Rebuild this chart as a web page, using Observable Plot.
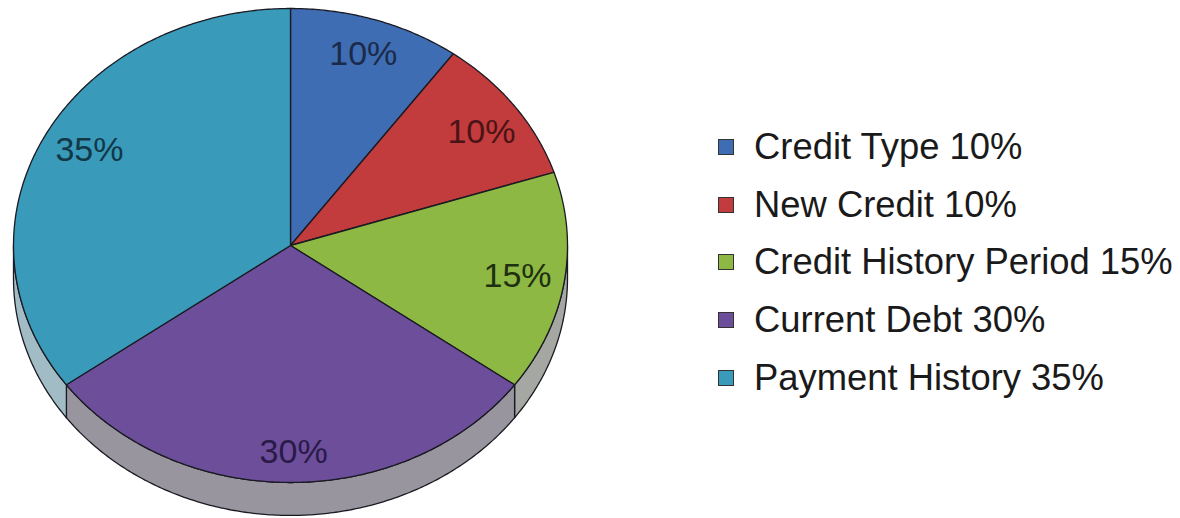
<!DOCTYPE html>
<html>
<head>
<meta charset="utf-8">
<script src="https://cdn.jsdelivr.net/npm/d3@7"></script>
<script src="https://cdn.jsdelivr.net/npm/@observablehq/plot@0.6"></script>
<style>
  html, body { margin: 0; padding: 0; background: #fff; }
  #wrap { position: relative; width: 1180px; height: 518px; font-family: "Liberation Sans", Arial, sans-serif; }
  #chart { position: absolute; left: 0; top: 0; }
  #legend { position: absolute; left: 718px; top: 118px; }
  .row { display: flex; align-items: center; height: 57.8px; }
  .sw { width: 16px; height: 16px; border: 1.3px solid #333; box-sizing: border-box; margin-right: 20px; }
  .lbl { font-size: 36.4px; color: #1a1a1a; white-space: nowrap; }
</style>
</head>
<body>
<div id="wrap"><div id="chart"></div><div id="legend"></div></div>
<script>
// ---- data ----
const categories = ["Credit Type", "New Credit", "Credit History Period", "Current Debt", "Payment History"];
const values = [10, 10, 15, 30, 35];
const sliceColors = ["#3e6db3", "#c23b3d", "#8cb843", "#6c4e9b", "#3a9aba"];
const sideColors = ["#8f9fbf", "#b08a8c", "#a4a7a2", "#98959e", "#a2bcc6"];
const labelColors = ["#1c2a4a", "#4a1416", "#1f3010", "#2a1a48", "#123848"];

// ---- geometry derived from data ----
const depth = 0.139;           // thickness of the disc, in radius units
const total = d3.sum(values);
const cum = d3.cumsum(values);
const slices = categories.map((c, i) => {
  const a0 = ((cum[i] - values[i]) / total) * 2 * Math.PI;
  const a1 = (cum[i] / total) * 2 * Math.PI;
  return {c, i, a0, a1, v: values[i]};
});
const pt = (a, r = 1, dy = 0) => ({x: r * Math.sin(a), y: r * Math.cos(a) - dy});

function wedge(s) {
  const pts = [{x: 0, y: 0}];
  const n = Math.max(2, Math.ceil((s.a1 - s.a0) / 0.01));
  for (let k = 0; k <= n; k++) pts.push(pt(s.a0 + (s.a1 - s.a0) * k / n));
  return pts;
}
function side(s) {
  const lo = Math.max(s.a0, Math.PI / 2), hi = Math.min(s.a1, 3 * Math.PI / 2);
  if (hi <= lo) return null;
  const n = Math.max(2, Math.ceil((hi - lo) / 0.01));
  const top = [], bot = [];
  for (let k = 0; k <= n; k++) {
    const a = lo + (hi - lo) * k / n;
    top.push(pt(a));
    bot.push(pt(a, 1, depth));
  }
  return top.concat(bot.reverse());
}

const marks = [];
slices.forEach(s => {
  const p = side(s);
  if (p) marks.push(Plot.line(p, {x: "x", y: "y", curve: "linear-closed", fill: sideColors[s.i], stroke: "#1a1a22", strokeWidth: 1.3}));
});
slices.forEach(s => {
  marks.push(Plot.line(wedge(s), {x: "x", y: "y", curve: "linear-closed", fill: sliceColors[s.i], stroke: "#1a1a22", strokeWidth: 1.3}));
});
// percentage labels
const labelR = [0.85, 0.84, 0.83, 0.87, 0.83];
const labelOffsetA = [0, 0.02, 0, -0.013, 0.035];
const labels = slices.map((s, i) => ({...pt((s.a0 + s.a1) / 2 + labelOffsetA[i], labelR[i]), t: s.v + "%", col: labelColors[i]}));
marks.push(Plot.text(labels, {x: "x", y: "y", text: "t", fill: "col", fontSize: 34, fontFamily: "Liberation Sans, Arial, sans-serif"}));

const chart = Plot.plot({
  width: 600,
  height: 518,
  margin: 0,
  x: {domain: [-1, 1], range: [13, 567], axis: null},
  y: {domain: [1, -1 - depth], range: [8, 482 + 237 * depth], axis: null},
  marks
});
document.getElementById("chart").append(chart);

// legend
const legend = document.getElementById("legend");
categories.forEach((c, i) => {
  const row = document.createElement("div");
  row.className = "row";
  const sw = document.createElement("div");
  sw.className = "sw";
  sw.style.background = sliceColors[i];
  const lb = document.createElement("div");
  lb.className = "lbl";
  lb.textContent = c + " " + values[i] + "%";
  row.append(sw, lb);
  legend.append(row);
});
</script>
</body>
</html>
